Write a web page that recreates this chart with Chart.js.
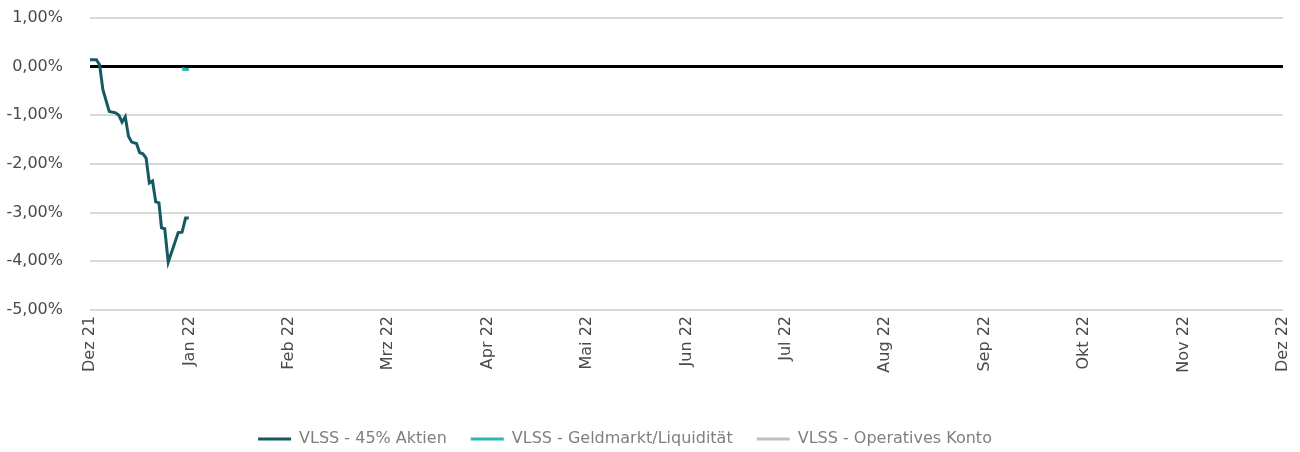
<!DOCTYPE html>
<html>
<head>
<meta charset="utf-8">
<script src="https://cdn.jsdelivr.net/npm/chart.js@4.4.1/dist/chart.umd.min.js"></script>
<style>
html,body{margin:0;padding:0;background:#fff;}
#wrap{width:1300px;height:452px;position:relative;}
</style>
</head>
<body>
<div id="wrap"><canvas id="c" width="1300" height="452"></canvas></div>
<script>
// Month tick labels (x axis: months since Dez 21)
const monthLabels = ["Dez 21","Jan 22","Feb 22","Mrz 22","Apr 22","Mai 22","Jun 22","Jul 22","Aug 22","Sep 22","Okt 22","Nov 22","Dez 22"];
// Y tick values and labels
const yTickValues = [1, 0, -1, -2, -3, -4, -5];
const yTickLabels = ["1,00%","0,00%","-1,00%","-2,00%","-3,00%","-4,00%","-5,00%"];

// Series: day offset within December 2021 (0..31) and performance in %
const aktienDays   = [0, 2, 3, 4, 6, 8, 9, 10, 11, 12, 13, 14.5, 15.5, 16.5, 17.5, 18.5, 19.5, 20.5, 21.5, 22.3, 23.3, 24.4, 27.5, 28.7, 29.8, 30.8];
const aktienValues = [0.14, 0.14, 0.04, -0.47, -0.92, -0.95, -1.00, -1.14, -1.03, -1.43, -1.55, -1.58, -1.77, -1.79, -1.88, -2.39, -2.35, -2.78, -2.80, -3.31, -3.33, -4.02, -3.41, -3.40, -3.11, -3.11];
const geldDays     = [28.7, 29.8, 30.8];
const geldValues   = [-0.05, -0.06, -0.06];
const kontoDays    = [28.7, 29.8, 30.8];
const kontoValues  = [-0.05, -0.06, -0.06];
const daysInDec = 31;

const seriesNames = ["VLSS - 45% Aktien", "VLSS - Geldmarkt/Liquidität", "VLSS - Operatives Konto"];
const seriesColors = ["#145963", "#2bb8b0", "#bfbfbf"];

function toPoints(days, vals){ return days.map((d,i)=>({x: d/daysInDec, y: vals[i]})); }

const FONT = "'DejaVu Sans', sans-serif";

new Chart(document.getElementById('c'), {
  type: 'line',
  data: {
    datasets: [
      {label: seriesNames[0], data: toPoints(aktienDays, aktienValues), borderColor: seriesColors[0], backgroundColor: seriesColors[0], borderWidth: 3, pointRadius: 0, tension: 0, order: 1},
      {label: seriesNames[1], data: toPoints(geldDays, geldValues), borderColor: seriesColors[1], backgroundColor: seriesColors[1], borderWidth: 3, pointRadius: 0, tension: 0, order: 2},
      {label: seriesNames[2], data: toPoints(kontoDays, kontoValues), borderColor: seriesColors[2], backgroundColor: seriesColors[2], borderWidth: 3, pointRadius: 0, tension: 0, order: 3}
    ]
  },
  options: {
    responsive: false,
    animation: false,
    devicePixelRatio: 1,
    layout: {padding: {top: 18, right: 17, bottom: -5, left: -33}},
    plugins: {
      tooltip: {enabled: false},
      legend: {
        position: 'bottom',
        labels: {
          boxWidth: 33, boxHeight: 3, padding: 24,
          color: '#7f7f7f',
          font: {family: FONT, size: 16},
          generateLabels(chart){
            return chart.data.datasets.map((ds,i)=>({text: ds.label, fillStyle: ds.borderColor, strokeStyle: ds.borderColor, lineWidth: 0, hidden: false, datasetIndex: i, fontColor: '#7f7f7f'}));
          }
        }
      }
    },
    scales: {
      x: {
        type: 'linear', min: 0, max: 12,
        afterFit(scale){ scale.height = 97; scale.paddingLeft = 0; scale.paddingRight = 0; },
        afterBuildTicks(scale){ scale.ticks = monthLabels.map((_,i)=>({value:i})); },
        grid: {display: false, drawTicks: false},
        border: {display: false},
        ticks: {
          maxRotation: 90, minRotation: 90, autoSkip: false, padding: 6,
          color: '#4a4a4a', font: {family: FONT, size: 16},
          callback: (v)=> monthLabels[v]
        }
      },
      y: {
        min: -5, max: 1,
        afterFit(scale){ scale.width = 123; scale.paddingTop = 0; scale.paddingBottom = 0; },
        afterBuildTicks(scale){ scale.ticks = yTickValues.map(v=>({value:v})); },
        grid: {
          drawTicks: false,
          color: (ctx)=> ctx.tick && ctx.tick.value === 0 ? '#000000' : '#d9d9d9',
          lineWidth: (ctx)=> ctx.tick && ctx.tick.value === 0 ? 3 : 2
        },
        border: {display: false},
        ticks: {
          padding: 27, color: '#4a4a4a', font: {family: FONT, size: 16},
          callback: (v)=> yTickLabels[yTickValues.indexOf(v)]
        }
      }
    }
  }
});
</script>
</body>
</html>
